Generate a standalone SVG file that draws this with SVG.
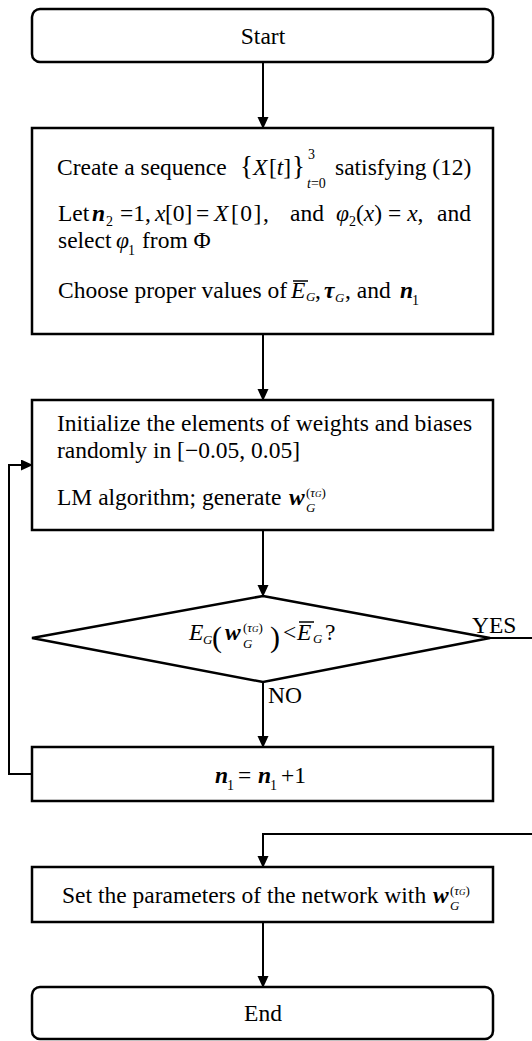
<svg xmlns="http://www.w3.org/2000/svg" width="532" height="1041" viewBox="0 0 532 1041">
<style>
.t{font-family:"Liberation Serif","Times New Roman",serif;font-size:23.5px;fill:#000}
.i{font-style:italic}
.bi{font-style:italic;font-weight:bold}
.s{font-size:14px}
.ss{font-size:13px}
.box{fill:#fff;stroke:#000;stroke-width:2.5}
.ln{fill:none;stroke:#000;stroke-width:2}
.ov{stroke:#000;stroke-width:1.5}
</style>
<defs>
<marker id="ah" markerUnits="userSpaceOnUse" markerWidth="12" markerHeight="12" refX="10" refY="5.5" orient="auto">
<path d="M0,0 L12,5.5 L0,11 Z" fill="#000"/>
</marker>
</defs>
<rect width="532" height="1041" fill="#fff"/>
<g id="connectors">
<path class="ln" d="M263,62 V127" marker-end="url(#ah)"/>
<path class="ln" d="M263,334 V399" marker-end="url(#ah)"/>
<path class="ln" d="M263,530 V595" marker-end="url(#ah)"/>
<path class="ln" d="M263,682 V746" marker-end="url(#ah)"/>
<path class="ln" d="M32,774 H9 V465 H31" marker-end="url(#ah)"/>
<path class="ln" d="M490,638 H532"/>
<path class="ln" d="M532,834 H263 V866" marker-end="url(#ah)"/>
<path class="ln" d="M263,922 V986" marker-end="url(#ah)"/>
<text class="t" x="472" y="633">YES</text>
<text class="t" x="268" y="703">NO</text>
</g>
<g id="start">
<rect class="box" x="32" y="9" width="461" height="53" rx="8"/>
<text class="t" x="263" y="44" text-anchor="middle">Start</text>
</g>
<g id="init">
<rect class="box" x="32" y="128" width="461" height="206"/>
<text class="t" y="175"><tspan x="57">Create a sequence</tspan><tspan x="240" font-size="27">{</tspan><tspan x="253" class="i">X</tspan><tspan x="269">[</tspan><tspan class="i">t</tspan><tspan>]</tspan><tspan x="292" font-size="27">}</tspan><tspan x="308" y="159" class="s">3</tspan><tspan x="307" y="188" class="s i">t</tspan><tspan class="s">=0</tspan><tspan x="335" y="175">satisfying (12)</tspan></text>
<text class="t" y="221"><tspan x="58">Let</tspan><tspan x="92" class="bi">n</tspan><tspan x="106" y="226" class="s">2</tspan><tspan x="120" y="221">=1,</tspan><tspan x="155" class="i">x</tspan><tspan x="165">[0]</tspan><tspan x="196">=</tspan><tspan x="214" class="i">X</tspan><tspan x="231" letter-spacing="1.5">[0],</tspan><tspan x="290">and</tspan><tspan x="336" class="i">φ</tspan><tspan y="226" class="s">2</tspan><tspan y="221">(</tspan><tspan class="i">x</tspan><tspan>) = </tspan><tspan class="i">x</tspan><tspan>,</tspan><tspan x="437">and</tspan></text>
<text class="t" y="248"><tspan x="58">select</tspan><tspan x="116" class="i">φ</tspan><tspan x="128" y="255" class="s">1</tspan><tspan x="142" y="248">from Φ</tspan></text>
<text class="t" y="298"><tspan x="58">Choose proper values of</tspan><tspan x="291" class="i">E</tspan><tspan x="306" y="301" class="ss i">G</tspan><tspan x="315" y="298">,</tspan><tspan x="324" class="bi">τ</tspan><tspan x="335" y="302" class="ss i">G</tspan><tspan x="345" y="298">, and</tspan><tspan x="400" class="bi">n</tspan><tspan x="412" y="305" class="s">1</tspan></text>
<line class="ov" x1="293" y1="281" x2="308" y2="281"/>
</g>
<g id="train">
<rect class="box" x="32" y="400" width="461" height="130"/>
<text class="t" x="57" y="431">Initialize the elements of weights and biases</text>
<text class="t" x="57" y="458">randomly in [−0.05, 0.05]</text>
<text class="t" y="505"><tspan x="57">LM algorithm; generate</tspan><tspan x="289" class="bi">w</tspan><tspan x="306" y="497" class="ss">(</tspan><tspan class="ss i">τ</tspan><tspan font-size="9" class="i">G</tspan><tspan class="ss">)</tspan><tspan x="306" y="512" class="ss i">G</tspan></text>
</g>
<g id="decision">
<polygon class="box" points="263,596 490,638 263,682 32,638"/>
<text class="t" y="640"><tspan x="189" class="i">E</tspan><tspan x="203" y="644" class="ss i">G</tspan><tspan x="212" y="647" font-size="30">(</tspan><tspan x="225" y="640" class="bi">w</tspan><tspan x="243" y="632" class="ss">(</tspan><tspan class="ss i">τ</tspan><tspan font-size="9" class="i">G</tspan><tspan class="ss">)</tspan><tspan x="243" y="648" class="ss i">G</tspan><tspan x="270" y="647" font-size="30">)</tspan><tspan x="283" y="640">&lt;</tspan><tspan x="297" class="i">E</tspan><tspan x="313" y="643" class="ss i">G</tspan><tspan x="325" y="640">?</tspan></text>
<line class="ov" x1="299" y1="622" x2="314" y2="622"/>
</g>
<g id="increment">
<rect class="box" x="32" y="747" width="461" height="54"/>
<text class="t" y="783"><tspan x="215" class="bi">n</tspan><tspan x="227" y="790" class="s">1</tspan><tspan x="238" y="783">=</tspan><tspan x="258" class="bi">n</tspan><tspan x="270" y="790" class="s">1</tspan><tspan x="281" y="783">+1</tspan></text>
</g>
<g id="setparams">
<rect class="box" x="32" y="867" width="461" height="55"/>
<text class="t" y="903"><tspan x="62">Set the parameters of the network with</tspan><tspan x="433" class="bi">w</tspan><tspan x="450" y="895" class="ss">(</tspan><tspan class="ss i">τ</tspan><tspan font-size="9" class="i">G</tspan><tspan class="ss">)</tspan><tspan x="450" y="910" class="ss i">G</tspan></text>
</g>
<g id="end">
<rect class="box" x="32" y="987" width="461" height="52" rx="8"/>
<text class="t" x="263" y="1021" text-anchor="middle">End</text>
</g>
</svg>
